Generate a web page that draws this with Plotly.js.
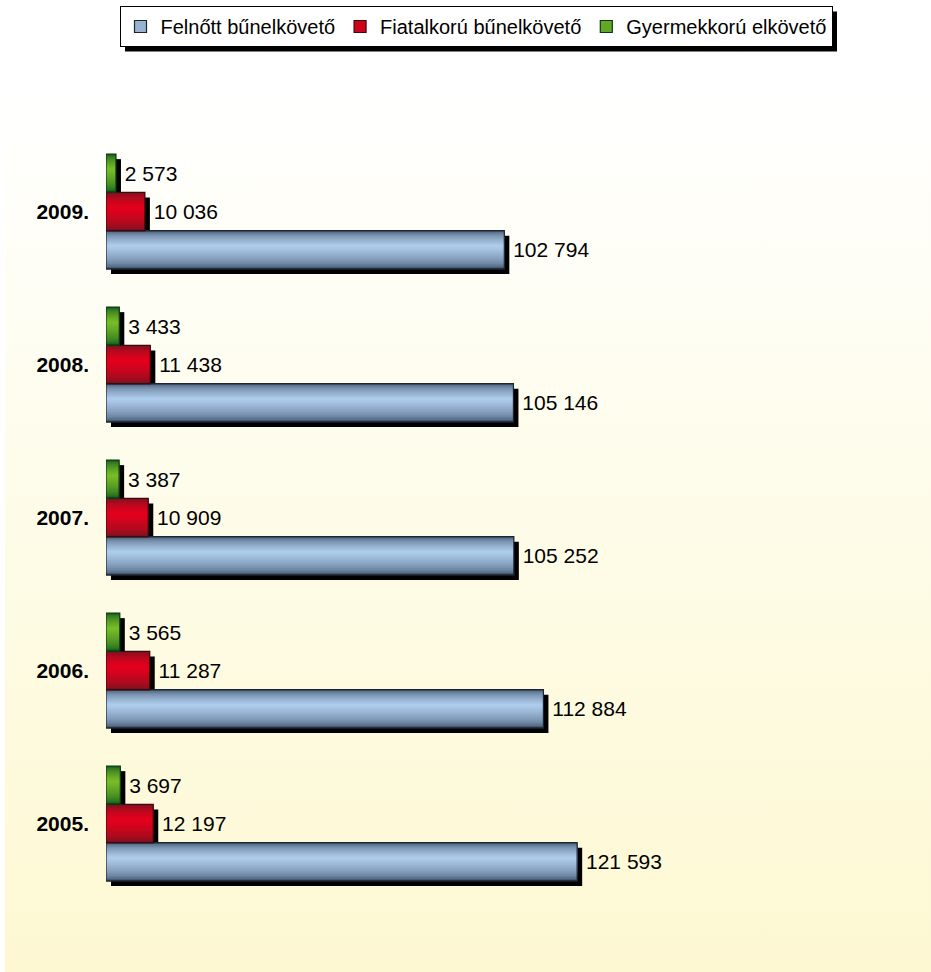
<!DOCTYPE html>
<html>
<head>
<meta charset="utf-8">
<script src="https://cdn.plot.ly/plotly-3.0.1.min.js"></script>
<style>
  html, body { margin: 0; padding: 0; background: #ffffff; }
  #bg { position: absolute; left: 5px; top: 87px; width: 926px; height: 885px;
        background: linear-gradient(to bottom, #ffffff 0%, #fefcea 45%, #fdf8d2 100%); z-index: 0; }
  #chart { position: absolute; left: 0; top: 0; width: 931px; height: 972px; z-index: 1; }
</style>
</head>
<body>
<div id="bg"></div>
<div id="chart"></div>
<script>
// ---- data ----
const years = ['2005.', '2006.', '2007.', '2008.', '2009.'];
const felnott = [121593, 112884, 105252, 105146, 102794];
const fiatalkoru = [12197, 11287, 10909, 11438, 10036];
const gyermekkoru = [3697, 3565, 3387, 3433, 2573];
const seriesNames = ['Felnőtt bűnelkövető', 'Fiatalkorú bűnelkövető', 'Gyermekkorú elkövető'];

// ---- style ----
const FONT = 'Arial, "Liberation Sans", Helvetica, sans-serif';
const W = 780, H = 770, SH = 5, L = 106, T = 135;
const XMAX = 200000;
const BW = 0.25;
const styles = [
  {base: -0.375, dark: '#3e536e', light: '#adcbea', line: '#1c2430'},
  {base: -0.125, dark: '#741420', light: '#e4001c', line: '#3a0a0e'},
  {base:  0.125, dark: '#0b561b', light: '#78bb28', line: '#0b3a12'}
];
const seriesValues = [felnott, fiatalkoru, gyermekkoru];

function hex2rgb(h) { return [1,3,5].map(i => parseInt(h.substr(i,2),16)); }
function mix(a, b, t) {
  const A = hex2rgb(a), B = hex2rgb(b);
  return 'rgb(' + A.map((v,i) => Math.round(v + (B[i]-v)*t)).join(',') + ')';
}

const data = [];
// shadows (drawn first, on shifted subplot)
seriesValues.forEach((vals, s) => {
  data.push({
    type: 'bar', orientation: 'h', x: vals, y: years, xaxis: 'x', yaxis: 'y',
    width: BW, offset: styles[s].base,
    marker: {color: '#000000', line: {width: 0}},
    showlegend: false, hoverinfo: 'skip'
  });
});
// gradient layers
const NL = 14;
seriesValues.forEach((vals, s) => {
  const st = styles[s];
  for (let k = 0; k < NL; k++) {
    const f = 1 - k / NL;
    const t = Math.pow(k / (NL - 1), 0.55);
    data.push({
      type: 'bar', orientation: 'h', x: vals, y: years, xaxis: 'x2', yaxis: 'y2',
      width: BW * f, offset: st.base + (1 - f) * BW * 0.6,
      marker: {color: mix(st.dark, st.light, t), line: {width: 0}},
      showlegend: false, hoverinfo: 'skip'
    });
  }
  // border + value labels
  data.push({
    type: 'bar', orientation: 'h', x: vals, y: years, xaxis: 'x2', yaxis: 'y2',
    width: BW, offset: st.base,
    marker: {color: 'rgba(0,0,0,0)', line: {width: 1.2, color: st.line}},
    texttemplate: '\u00a0%{x:,}', textposition: 'outside', textangle: 0,
    constraintext: 'none', cliponaxis: false,
    outsidetextfont: {family: FONT, size: 21, color: '#000000'},
    showlegend: false, hoverinfo: 'skip'
  });
});
// legend entries (zero-thickness bars on the bar's own lower edge)
seriesValues.forEach((vals, s) => {
  const st = styles[s];
  data.push({
    type: 'bar', orientation: 'h', x: vals, y: years, xaxis: 'x2', yaxis: 'y2',
    width: 0.000001, offset: st.base,
    name: seriesNames[s],
    marker: {color: mix(st.dark, st.light, 0.8), line: {width: 1.2, color: st.line}},
    showlegend: true, hoverinfo: 'skip'
  });
});

const yCommon = {
  type: 'category', categoryorder: 'array', categoryarray: years,
  range: [-0.5, 4.5], showgrid: false, zeroline: false, showline: false, fixedrange: true
};
const xCommon = {range: [0, XMAX], showgrid: false, zeroline: false, showline: false,
  showticklabels: false, ticks: '', fixedrange: true};

const layout = {
  width: 931, height: 972,
  margin: {l: L, r: 931 - L - W, t: T, b: 972 - T - H, pad: 0},
  paper_bgcolor: 'rgba(0,0,0,0)', plot_bgcolor: 'rgba(0,0,0,0)',
  barmode: 'overlay',
  separators: ', ',
  font: {family: FONT, size: 21, color: '#000000'},
  xaxis: Object.assign({}, xCommon, {domain: [SH / W, 1], anchor: 'y'}),
  yaxis: Object.assign({}, yCommon, {domain: [0, 1 - SH / H], anchor: 'x', showticklabels: false, ticks: ''}),
  xaxis2: Object.assign({}, xCommon, {domain: [0, 1 - SH / W], anchor: 'y2'}),
  yaxis2: Object.assign({}, yCommon, {domain: [SH / H, 1], anchor: 'x2', ticks: '',
    ticklabelstandoff: 16,
    tickfont: {family: FONT, size: 21, color: '#000000', weight: 700}}),
  legend: {
    orientation: 'h', xref: 'container', yref: 'container',
    x: 476 / 931, xanchor: 'center', y: 1 - 6 / 972, yanchor: 'top',
    bgcolor: '#ffffff', bordercolor: '#000000', borderwidth: 1,
    font: {family: FONT, size: 20, color: '#000000'},
    traceorder: 'normal', itemclick: false, itemdoubleclick: false,
    tracegroupgap: 0, itemwidth: 30
  },
  showlegend: true
};

const gd = document.getElementById('chart');
Plotly.newPlot(gd, data, layout, {displayModeBar: false, staticPlot: true}).then(() => {
  const bg = gd.querySelector('.legend .bg');
  if (!bg) return;
  const r = bg.getBoundingClientRect();
  const g = gd.getBoundingClientRect();
  const s = gd._fullLayout._size;
  const px = v => (v - g.left - s.l) / s.w;
  const py = v => 1 - (v - g.top - s.t) / s.h;
  return Plotly.relayout(gd, {shapes: [{
    type: 'rect', xref: 'paper', yref: 'paper', layer: 'above',
    x0: px(r.left + 5), x1: px(r.right + 5), y0: py(r.bottom + 5), y1: py(r.top + 5),
    fillcolor: '#000000', line: {width: 0}
  }]});
});
</script>
</body>
</html>
